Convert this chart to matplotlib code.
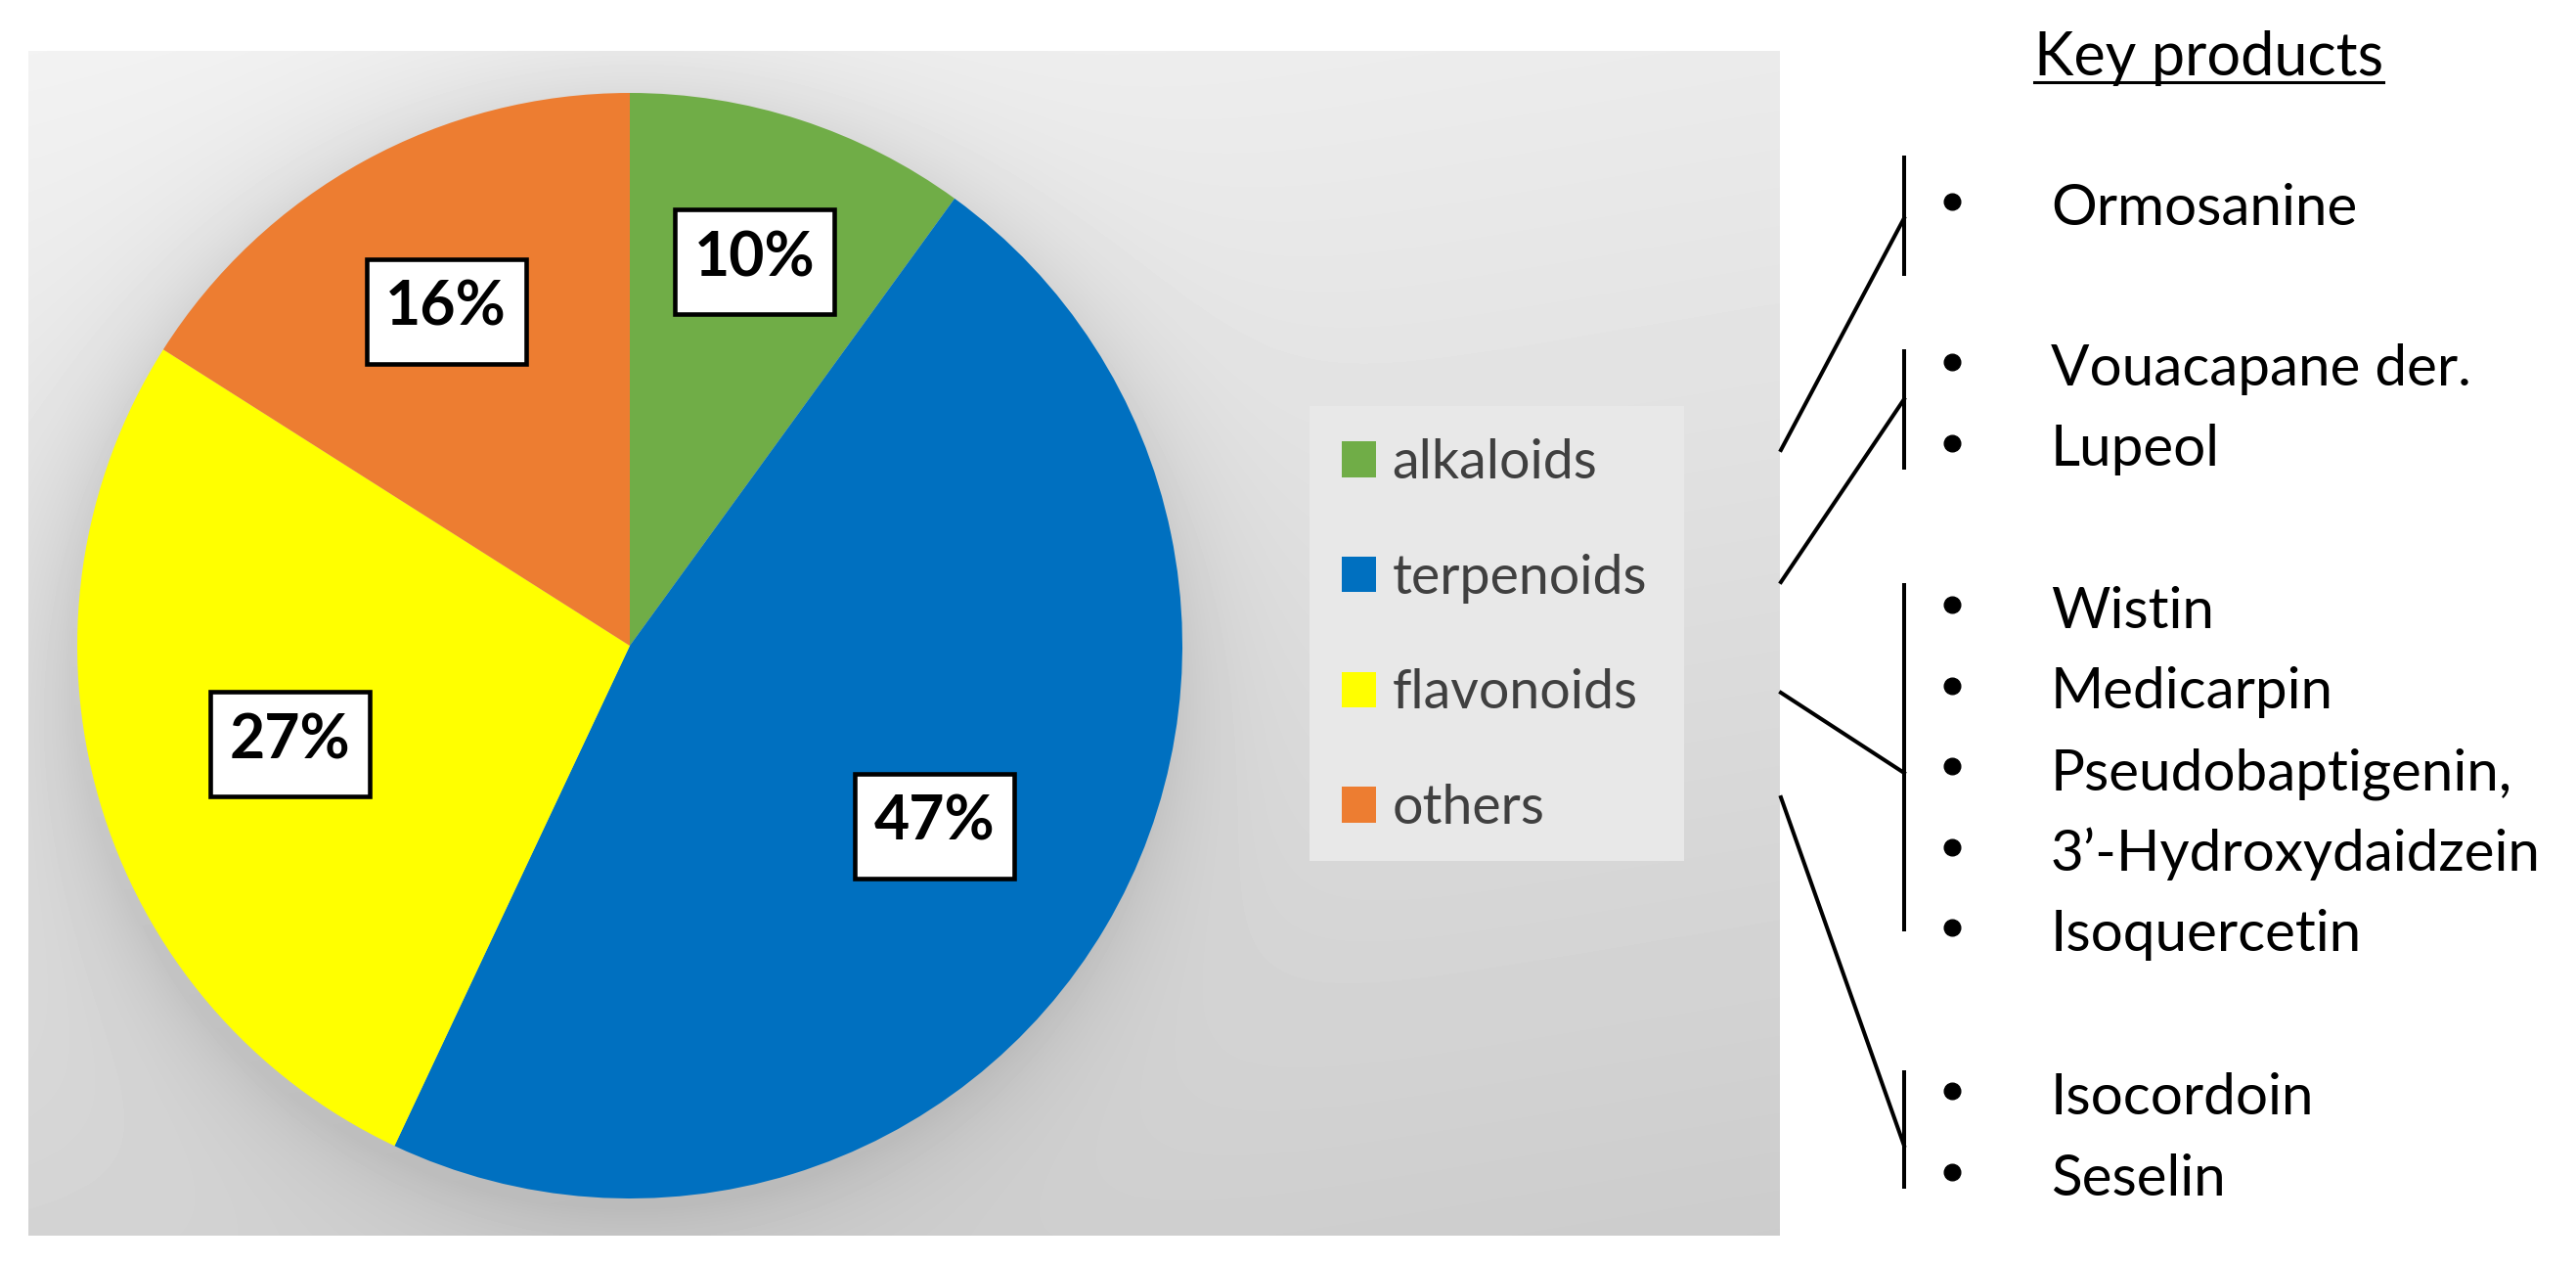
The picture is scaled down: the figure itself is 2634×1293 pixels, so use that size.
import numpy as np
import matplotlib.pyplot as plt
from matplotlib.patches import Rectangle

categories = ['alkaloids', 'terpenoids', 'flavonoids', 'others']
shares = [10, 47, 27, 16]
colors = ['#70AD47', '#0070C0', '#FFFF00', '#ED7D31']

# key products, one list per bracket (same order as the legend)
products = [
    ['Ormosanine'],
    ['Vouacapane der.', 'Lupeol'],
    ['Wistin', 'Medicarpin', 'Pseudobaptigenin,', '3\u2019-Hydroxydaidzein', 'Isoquercetin'],
    ['Isocordoin', 'Seselin'],
]

plt.rcParams['font.family'] = ['Lato', 'DejaVu Sans']

W, H = 2634, 1293
fig = plt.figure(figsize=(W / 100, H / 100), dpi=100)
fig.patch.set_facecolor('white')

# grey gradient panel behind the pie, with a soft shadow round it
px0, px1, py0, py1 = 29, 1820, 52, 1263
cx, cy, R = 644, 660, 565
bg = fig.add_axes([px0 / W, 1 - py1 / H, (px1 - px0) / W, (py1 - py0) / H])
yy, xx = np.mgrid[py0:py1, px0:px1].astype(float)
shade = 0.95 - 0.12 * (yy - py0) / (py1 - py0) - 0.03 * (xx - px0) / (px1 - px0)
d = np.hypot(xx - cx + 6, yy - cy - 10) - R
shade -= 0.09 * np.exp(-np.clip(d, 0, None) / 55)
bg.imshow(shade, cmap='gray', vmin=0, vmax=1, aspect='auto', interpolation='bilinear')
bg.axis('off')

# pie
ax = fig.add_axes([(cx - R) / W, 1 - (cy + R) / H, 2 * R / W, 2 * R / H])
wedges, texts, autotexts = ax.pie(
    shares, colors=colors, startangle=90, counterclock=False,
    autopct=lambda p: f'{p:.0f}%', radius=1,
    wedgeprops=dict(linewidth=0),
    textprops=dict(fontsize=45, fontweight='bold', color='black', zorder=4))
ax.set_xlim(-1, 1)
ax.set_ylim(-1, 1)

# white label boxes, 163 x 107 px (565 px per unit radius)
bw, bh = 163 / R, 107 / R
label_dist = [0.73, 0.64, 0.64, 0.69]
for w, t, r in zip(wedges, autotexts, label_dist):
    th = np.deg2rad((w.theta1 + w.theta2) / 2)
    x, y = r * np.cos(th), r * np.sin(th)
    t.set_position((x, y + 0.006))
    ax.add_patch(Rectangle((x - bw / 2, y - bh / 2), bw, bh, fc='white',
                           ec='black', lw=3.3, zorder=3))

# legend: grey box drawn separately, entries without frame
ov = fig.add_axes([0, 0, 1, 1])
ov.set_xlim(0, W)
ov.set_ylim(H, 0)
ov.axis('off')
ov.add_patch(Rectangle((1339, 415), 383, 465, fc='#e8e8e8', ec='none'))

fig.legend(wedges, categories, loc='center left',
           bbox_to_anchor=(1372 / W, 1 - 650 / H),
           fontsize=40, labelcolor='#404040', frameon=False,
           handlelength=0.63, handleheight=0.63, handletextpad=0.3,
           labelspacing=1.2, borderpad=0, borderaxespad=0)

# right-hand side: key products with brackets, in pixel coordinates
ov.text(2080, 77, 'Key products', fontsize=44, va='baseline', ha='left')
ov.plot([2080, 2437], [84, 84], color='black', lw=2.2)

first_y = [206, 370, 618, 1115]
step = 82.5
brackets = [(159, 282), (357, 480), (596, 952), (1094, 1215)]
starts = [460, 595, 708, 815]
ends = [223, 408, 790, 1171]

for names, y0, (b0, b1), s, e in zip(products, first_y, brackets, starts, ends):
    for i, name in enumerate(names):
        y = y0 + i * step
        ov.plot(1996, y, 'o', ms=12, color='black')
        ov.text(2097, y + 24, name, fontsize=42, va='baseline', ha='left')
    ov.plot([1947, 1947], [b0, b1], color='black', lw=2.9, solid_capstyle='butt')
    ov.plot([1821, 1947], [s, e], color='black', lw=2.9)

fig.savefig('out.png', dpi=100)
